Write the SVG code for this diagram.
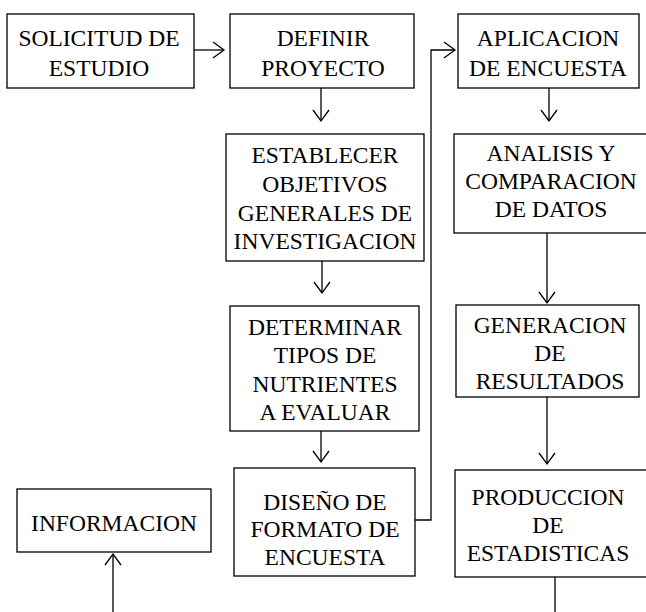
<svg xmlns="http://www.w3.org/2000/svg" width="646" height="612" viewBox="0 0 646 612">
<style>
.box{fill:#fff;stroke:#000;stroke-width:1.3}
.t{font-family:"Liberation Serif","Times New Roman",serif;font-size:23.5px;fill:#000;text-anchor:middle}
.c{fill:none;stroke:#000;stroke-width:1.3}
</style>
<defs>
<marker id="ah" markerUnits="userSpaceOnUse" markerWidth="24" markerHeight="24" viewBox="-12 -12 24 24" refX="0" refY="0" orient="auto">
<path d="M-11,-8 L0,0 L-11,8" fill="none" stroke="#000" stroke-width="1.3"/>
</marker>
</defs>
<rect width="646" height="612" fill="#fff"/>
<g id="connectors">
<path class="c" d="M194,50 H224" marker-end="url(#ah)"/>
<path class="c" d="M321,88 V121" marker-end="url(#ah)"/>
<path class="c" d="M549,88 V121" marker-end="url(#ah)"/>
<path class="c" d="M415,520 H431 V50 H455" marker-end="url(#ah)"/>
<path class="c" d="M322,261 V293" marker-end="url(#ah)"/>
<path class="c" d="M321,431 V462" marker-end="url(#ah)"/>
<path class="c" d="M547,233 V303" marker-end="url(#ah)"/>
<path class="c" d="M547,397 V464" marker-end="url(#ah)"/>
<path class="c" d="M555,577 V620 H113 V554" marker-end="url(#ah)"/>
</g>
<g id="solicitud">
<rect class="box" x="7" y="14" width="187" height="74"/>
<text class="t" x="99" y="46">SOLICITUD DE</text>
<text class="t" x="99" y="76">ESTUDIO</text>
</g>
<g id="definir">
<rect class="box" x="230" y="14" width="184" height="74"/>
<text class="t" x="323" y="46">DEFINIR</text>
<text class="t" x="323" y="76">PROYECTO</text>
</g>
<g id="aplicacion">
<rect class="box" x="458" y="14" width="181" height="74"/>
<text class="t" x="548" y="46">APLICACION</text>
<text class="t" x="548" y="76">DE ENCUESTA</text>
</g>
<g id="establecer">
<rect class="box" x="226" y="134" width="198" height="127"/>
<text class="t" x="325" y="163">ESTABLECER</text>
<text class="t" x="325" y="192">OBJETIVOS</text>
<text class="t" x="325" y="221">GENERALES DE</text>
<text class="t" x="325" y="249">INVESTIGACION</text>
</g>
<g id="determinar">
<rect class="box" x="230" y="306" width="189" height="125"/>
<text class="t" x="325" y="335">DETERMINAR</text>
<text class="t" x="325" y="363">TIPOS DE</text>
<text class="t" x="325" y="392">NUTRIENTES</text>
<text class="t" x="325" y="420">A EVALUAR</text>
</g>
<g id="diseno">
<rect class="box" x="234" y="468" width="181" height="108"/>
<text class="t" x="325" y="510">DISEÑO DE</text>
<text class="t" x="325" y="537">FORMATO DE</text>
<text class="t" x="325" y="565">ENCUESTA</text>
</g>
<g id="analisis">
<rect class="box" x="454" y="134" width="196" height="99"/>
<text class="t" x="551" y="161">ANALISIS Y</text>
<text class="t" x="551" y="189">COMPARACION</text>
<text class="t" x="551" y="217">DE DATOS</text>
</g>
<g id="generacion">
<rect class="box" x="456" y="305" width="183" height="92"/>
<text class="t" x="550" y="333">GENERACION</text>
<text class="t" x="550" y="361">DE</text>
<text class="t" x="550" y="389">RESULTADOS</text>
</g>
<g id="produccion">
<rect class="box" x="455" y="470" width="195" height="107"/>
<text class="t" x="548" y="505">PRODUCCION</text>
<text class="t" x="548" y="533">DE</text>
<text class="t" x="548" y="561">ESTADISTICAS</text>
</g>
<g id="informacion">
<rect class="box" x="17" y="489" width="194" height="63"/>
<text class="t" x="114" y="531">INFORMACION</text>
</g>
</svg>
